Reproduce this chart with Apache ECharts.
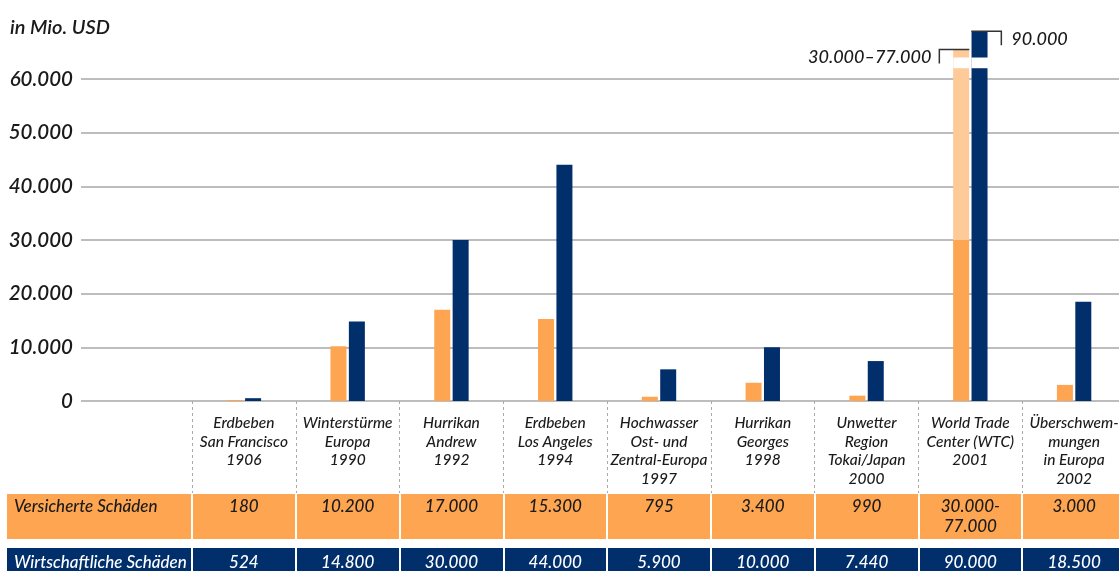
<!DOCTYPE html>
<html>
<head>
<meta charset="utf-8">
<script src="https://cdn.jsdelivr.net/npm/echarts@6/dist/echarts.min.js"></script>
<style>
html, body { margin: 0; padding: 0; background: #fff; }
#main { width: 1119px; height: 571px; }
</style>
</head>
<body>
<div id="main"></div>
<script>
// Daten
var categories = ['Erdbeben\nSan Francisco\n1906', 'Winterstürme\nEuropa\n1990', 'Hurrikan\nAndrew\n1992',
	'Erdbeben\nLos Angeles\n1994', 'Hochwasser\nOst- und\nZentral-Europa\n1997', 'Hurrikan\nGeorges\n1998',
	'Unwetter\nRegion\nTokai/Japan\n2000', 'World Trade\nCenter (WTC)\n2001', 'Überschwem-\nmungen\nin Europa\n2002'];
// versicherte Schäden (WTC: sicherer Teil 30.000)
var insured = [180, 10200, 17000, 15300, 795, 3400, 990, 30000, 3000];
// WTC Spanne oberhalb 30.000, gekappt (Achsenbruch)
var insuredRange = ['-', '-', '-', '-', '-', '-', '-', 35500, '-'];
// wirtschaftliche Schäden (WTC gekappt durch Achsenbruch)
var economic = [524, 14800, 30000, 44000, 5900, 10000, 7440, 68900, 18500];
var insuredLabels = ['180', '10.200', '17.000', '15.300', '795', '3.400', '990', '30.000-\n77.000', '3.000'];
var economicLabels = ['524', '14.800', '30.000', '44.000', '5.900', '10.000', '7.440', '90.000', '18.500'];
var yTicks = [0, 10000, 20000, 30000, 40000, 50000, 60000];
var wtcIndex = 7;
var breakRange = [62000, 64000];
var wtcInsuredNote = '30.000\u201377.000';
var wtcEconomicNote = '90.000';

var ORANGE = '#FDA550';
var PEACH = '#FECB98';
var NAVY = '#002F6C';
var FONT = 'Lato, "Open Sans", sans-serif';

function fmt(v) {
	return String(v).replace(/\B(?=(\d{3})+(?!\d))/g, '.');
}

var myChart = echarts.init(document.getElementById('main'));

var option = {
	animation : false,
	title : {
		text : 'in Mio. USD',
		left : 5,
		top : 13,
		textStyle : {
			fontFamily : FONT,
			fontStyle : 'italic',
			fontWeight : 600,
			fontSize : 20,
			color : '#1a1a1a'
		}
	},
	graphic : [ {
		type : 'rect',
		z : -10,
		shape : { x : 7, y : 494, width : 1112, height : 45 },
		style : { fill : ORANGE }
	}, {
		type : 'rect',
		z : -10,
		shape : { x : 7, y : 548, width : 1112, height : 30 },
		style : { fill : NAVY }
	}, {
		type : 'text',
		left : 14,
		top : 498,
		style : {
			text : 'Versicherte Schäden',
			font : 'italic 500 17px ' + FONT,
			fill : '#1a1a1a'
		}
	}, {
		type : 'text',
		left : 14,
		top : 554,
		style : {
			text : 'Wirtschaftliche Schäden',
			font : 'italic 500 17px ' + FONT,
			fill : '#fff'
		}
	} ],
	grid : [ {
		left : 81, right : 0, top : 25.3, bottom : 170,
		outerBoundsMode : 'none'
	}, {
		left : 192, right : -7, top : 25.3, bottom : 170,
		outerBoundsMode : 'none'
	} ],
	xAxis : [ {
		gridIndex : 0, type : 'value', show : false, min : 0, max : 1
	}, {
		// Kopfzeile der Tabelle
		gridIndex : 1,
		type : 'category',
		data : categories,
		axisLine : { show : false },
		axisTick : {
			show : true,
			length : 92,
			lineStyle : { color : '#aaa', type : [3, 3], width : 1 }
		},
		axisLabel : {
			interval : 0,
			margin : 13,
			fontFamily : FONT,
			fontStyle : 'italic',
			fontWeight : 500,
			fontSize : 15.5,
			lineHeight : 18.5,
			color : '#1a1a1a'
		}
	}, {
		// Versicherte Schäden
		gridIndex : 1,
		type : 'category',
		data : insuredLabels,
		position : 'bottom',
		offset : 93,
		axisLine : { show : false },
		axisTick : {
			show : true,
			length : 45,
			lineStyle : { color : '#fff', width : 2 }
		},
		axisLabel : {
			interval : 0,
			margin : 3,
			fontFamily : FONT,
			fontStyle : 'italic',
			fontWeight : 500,
			fontSize : 17,
			lineHeight : 20,
			color : '#1a1a1a'
		}
	}, {
		// Wirtschaftliche Schäden
		gridIndex : 1,
		type : 'category',
		data : economicLabels,
		position : 'bottom',
		offset : 147,
		axisLine : { show : false },
		axisTick : {
			show : true,
			length : 30,
			lineStyle : { color : '#fff', width : 2 }
		},
		axisLabel : {
			interval : 0,
			margin : 5,
			fontFamily : FONT,
			fontStyle : 'italic',
			fontWeight : 500,
			fontSize : 17,
			lineHeight : 20,
			color : '#fff'
		}
	} ],
	yAxis : [ {
		gridIndex : 0,
		type : 'value',
		min : 0,
		max : 70000,
		interval : 10000,
		axisLine : { show : false },
		axisTick : { show : false },
		splitLine : {
			showMaxLine : false,
			lineStyle : { color : '#bdbdbd', width : 2 }
		},
		axisLabel : {
			margin : 8,
			fontFamily : FONT,
			fontStyle : 'italic',
			fontWeight : 600,
			fontSize : 20.5,
			color : '#1a1a1a',
			formatter : function(v) {
				return yTicks.indexOf(v) >= 0 ? fmt(v) : '';
			}
		}
	}, {
		gridIndex : 1,
		type : 'value',
		min : 0,
		max : 70000,
		show : false
	} ],
	series : [ {
		name : 'Versicherte Schäden',
		type : 'bar',
		xAxisIndex : 1,
		yAxisIndex : 1,
		stack : 'v',
		barWidth : 16,
		barGap : '15%',
		itemStyle : { color : ORANGE },
		data : insured
	}, {
		name : 'Spanne',
		type : 'bar',
		xAxisIndex : 1,
		yAxisIndex : 1,
		stack : 'v',
		barWidth : 16,
		itemStyle : { color : PEACH },
		data : insuredRange
	}, {
		name : 'Wirtschaftliche Schäden',
		type : 'bar',
		xAxisIndex : 1,
		yAxisIndex : 1,
		barWidth : 16,
		barGap : '15%',
		itemStyle : { color : NAVY },
		data : economic
	}, {
		// Achsenbruch und Beschriftung WTC
		type : 'custom',
		xAxisIndex : 1,
		yAxisIndex : 1,
		z : 10,
		clip : false,
		data : [ [ wtcIndex, insured[wtcIndex] + insuredRange[wtcIndex], economic[wtcIndex] ] ],
		renderItem : function(params, api) {
			var pI = api.coord([ api.value(0), api.value(1) ]);
			var pE = api.coord([ api.value(0), api.value(2) ]);
			var b1 = api.coord([ api.value(0), breakRange[1] ])[1];
			var b0 = api.coord([ api.value(0), breakRange[0] ])[1];
			var cx = pI[0];
			var line = { stroke : '#333', lineWidth : 1.5, fill : null };
			return {
				type : 'group',
				children : [ {
					type : 'rect',
					shape : { x : cx - 17, y : b1, width : 16, height : b0 - b1 },
					style : { fill : '#fff' }
				}, {
					type : 'rect',
					shape : { x : cx + 1, y : b1, width : 17, height : b0 - b1 },
					style : { fill : '#fff' }
				}, {
					type : 'polyline',
					shape : { points : [ [ cx - 31, pI[1] + 14 ], [ cx - 31, pI[1] ], [ cx - 1, pI[1] ] ] },
					style : line
				}, {
					type : 'polyline',
					shape : { points : [ [ cx + 1, pE[1] ], [ cx + 31, pE[1] ], [ cx + 31, pE[1] + 14 ] ] },
					style : line
				}, {
					type : 'text',
					x : cx - 39,
					y : pI[1] + 8,
					style : {
						text : wtcInsuredNote,
						font : 'italic 500 18px ' + FONT,
						fill : '#1a1a1a',
						align : 'right',
						verticalAlign : 'middle'
					}
				}, {
					type : 'text',
					x : cx + 41,
					y : pE[1] + 8,
					style : {
						text : wtcEconomicNote,
						font : 'italic 500 18px ' + FONT,
						fill : '#1a1a1a',
						align : 'left',
						verticalAlign : 'middle'
					}
				} ]
			};
		}
	} ]
};

myChart.setOption(option);
</script>
</body>
</html>
